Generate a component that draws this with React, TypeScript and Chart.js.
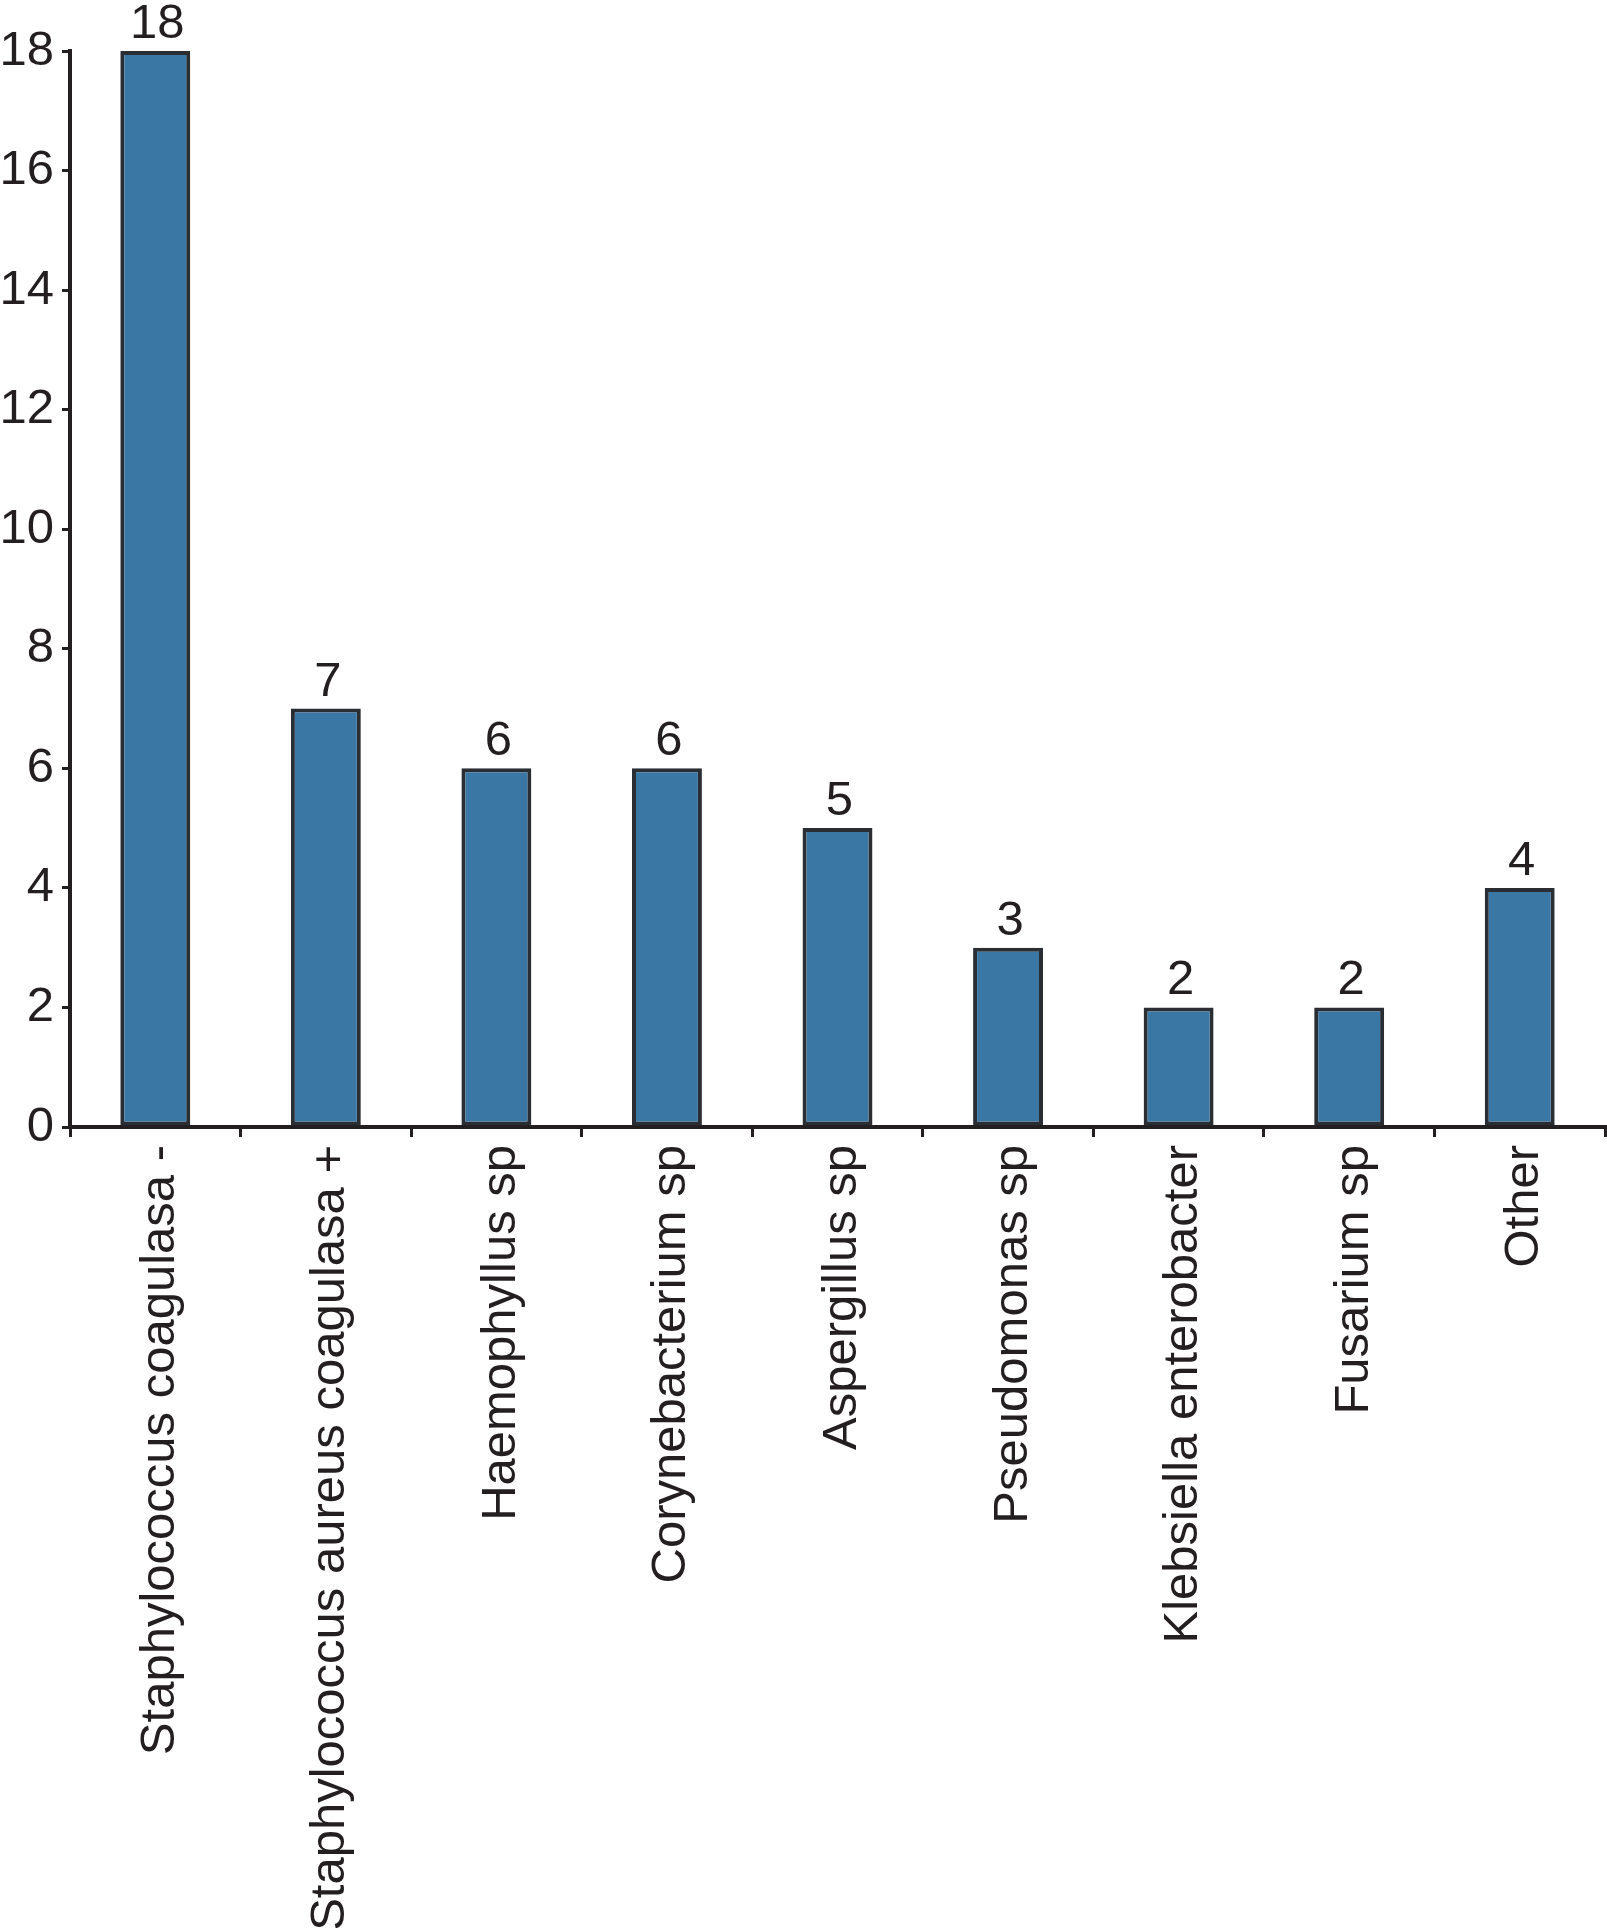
import React, { useEffect, useRef } from "react";
import { Chart, registerables } from "chart.js";

Chart.register(...registerables);

const categories = [
  "Staphylococcus coagulasa -",
  "Staphylococcus aureus coagulasa +",
  "Haemophyllus sp",
  "Corynebacterium sp",
  "Aspergillus sp",
  "Pseudomonas sp",
  "Klebsiella enterobacter",
  "Fusarium sp",
  "Other",
];
const counts = [18, 7, 6, 6, 5, 3, 2, 2, 4];
const yTicks = [0, 2, 4, 6, 8, 10, 12, 14, 16, 18];

const FONT = '"Liberation Sans", Arial, Helvetica, sans-serif';
const INK = "#231f20";
const BAR_FILL = "#3b77a5";
const BAR_EDGE = "#2a2e33";

const valueLabels = {
  id: "valueLabels",
  afterDatasetsDraw(chart: any) {
    const ctx = chart.ctx;
    const meta = chart.getDatasetMeta(0);
    ctx.save();
    ctx.font = `49px ${FONT}`;
    ctx.fillStyle = INK;
    ctx.textAlign = "center";
    ctx.textBaseline = "alphabetic";
    meta.data.forEach((bar: any, i: number) => {
      ctx.fillText(String(counts[i]), bar.x + 2, bar.y - 13);
    });
    ctx.restore();
  },
};

export default function App() {
  const ref = useRef<HTMLCanvasElement | null>(null);
  useEffect(() => {
    document.body.style.margin = "0";
    if (!ref.current) return;
    const chart = new Chart(ref.current, {
      type: "bar",
      data: {
        labels: categories,
        datasets: [
          {
            data: counts,
            backgroundColor: BAR_FILL,
            borderColor: BAR_EDGE,
            borderWidth: 4,
            borderSkipped: false,
            categoryPercentage: 1,
            barPercentage: 0.41,
          },
        ],
      },
      options: {
        responsive: false,
        animation: false,
        devicePixelRatio: 1,
        layout: { padding: { top: 51, right: 2, left: 0, bottom: 0 } },
        plugins: {
          legend: { display: false },
          tooltip: { enabled: false },
        },
        scales: {
          x: {
            type: "category",
            offset: true,
            grid: {
              offset: true,
              drawOnChartArea: false,
              drawTicks: true,
              tickLength: 10,
              color: INK,
              lineWidth: 3,
            },
            border: { display: true, color: INK, width: 4 },
            ticks: {
              color: INK,
              font: { family: FONT, size: 49 },
              minRotation: 90,
              maxRotation: 90,
              autoSkip: false,
              padding: 8,
              labelOffset: 5,
            },
            afterFit(scale: any) {
              scale.height = 801;
            },
          },
          y: {
            min: 0,
            max: 18,
            afterBuildTicks(scale: any) {
              scale.ticks = yTicks.map((v) => ({ value: v }));
            },
            grid: {
              drawOnChartArea: false,
              drawTicks: true,
              tickLength: 8,
              color: INK,
              lineWidth: 3,
            },
            border: { display: true, color: INK, width: 4 },
            ticks: {
              color: INK,
              font: { family: FONT, size: 49 },
              padding: 8,
            },
            afterFit(scale: any) {
              scale.width = 70;
            },
          },
        },
      },
      plugins: [valueLabels],
    });
    return () => chart.destroy();
  }, []);
  return (
    <div style={{ width: 1607, height: 1928, position: "relative" }}>
      <canvas ref={ref} width={1607} height={1928} style={{ display: "block" }} />
    </div>
  );
}
